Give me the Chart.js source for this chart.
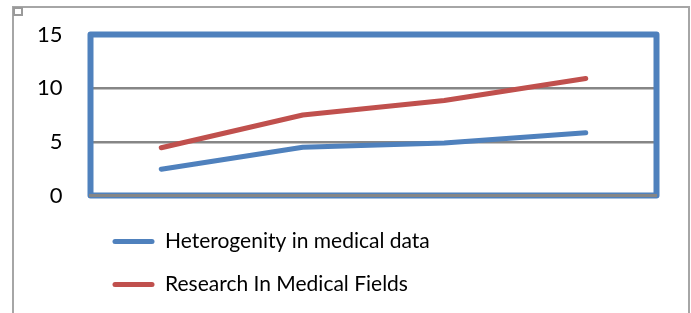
<!DOCTYPE html>
<html>
<head>
<meta charset="utf-8">
<script src="https://cdn.jsdelivr.net/npm/chart.js@4/dist/chart.umd.min.js"></script>
<style>
  html, body { margin: 0; padding: 0; background: #fff; }
  #wrap { position: relative; width: 691px; height: 313px; overflow: hidden; }
  #frame { position: absolute; left: 12px; top: 6px; width: 674px; height: 330px; border: 2px solid #a6a6a6; }
  #handle { position: absolute; left: 13px; top: 7px; width: 6px; height: 5px; border: 2px solid #9a9a9a; background: #fff; }
  canvas { position: absolute; left: 0; top: 0; }
</style>
</head>
<body>
<div id="wrap">
  <div id="frame"></div>
  <div id="handle"></div>
  <canvas id="chart" width="691" height="313"></canvas>
</div>
<script>
// values
const categories = ['1', '2', '3', '4'];
const heterogenity = [2.45, 4.5, 4.9, 5.85];
const research = [4.45, 7.5, 8.85, 10.9];
const yTicks = [0, 5, 10, 15];

const BLUE = '#4f81bd';
const RED = '#c0504d';
const GRAY = '#868686';

// blue box round the plot area
const plotFrame = {
  id: 'plotFrame',
  beforeDatasetsDraw(chart) {
    const { ctx, chartArea: a } = chart;
    ctx.save();
    ctx.strokeStyle = BLUE;
    ctx.lineWidth = 6;
    ctx.lineJoin = 'round';
    ctx.strokeRect(a.left, a.top, a.right - a.left, a.bottom - a.top);
    ctx.restore();
  }
};

new Chart(document.getElementById('chart'), {
  type: 'line',
  data: {
    labels: categories,
    datasets: [
      {
        label: 'Heterogenity in medical data',
        data: heterogenity,
        borderColor: BLUE,
        backgroundColor: BLUE,
        borderWidth: 5,
        borderCapStyle: 'round',
        borderJoinStyle: 'round',
        pointRadius: 0,
        tension: 0
      },
      {
        label: 'Research In Medical Fields',
        data: research,
        borderColor: RED,
        backgroundColor: RED,
        borderWidth: 5,
        borderCapStyle: 'round',
        borderJoinStyle: 'round',
        pointRadius: 0,
        tension: 0
      }
    ]
  },
  options: {
    responsive: false,
    animation: false,
    layout: { padding: { left: 0, top: 34.5, right: 34.5, bottom: 8 } },
    plugins: {
      tooltip: { enabled: false },
      legend: {
        position: 'bottom',
        align: 'start',
        fullSize: false,
        labels: {
          color: '#000',
          font: { family: 'Lato', size: 21 },
          boxWidth: 42,
          boxHeight: 5,
          padding: 22,
          generateLabels(chart) {
            return chart.data.datasets.map((ds, i) => ({
              text: ds.label,
              fillStyle: ds.borderColor,
              strokeStyle: ds.borderColor,
              lineWidth: 0,
              borderRadius: 2.5,
              datasetIndex: i
            }));
          }
        }
      }
    },
    scales: {
      x: {
        offset: true,
        grid: { display: false, drawTicks: false },
        border: { display: true, color: GRAY, width: 3, z: 1 },
        ticks: { display: false },
        afterFit(scale) { scale.height = 13.5; }
      },
      y: {
        min: 0,
        max: 15,
        afterBuildTicks(scale) { scale.ticks = yTicks.map(v => ({ value: v })); },
        grid: {
          drawTicks: false,
          lineWidth: 2.5,
          color: ctx => (ctx.tick && (ctx.tick.value === 5 || ctx.tick.value === 10)) ? GRAY : 'rgba(0,0,0,0)'
        },
        border: { display: false },
        ticks: {
          color: '#000',
          font: { family: 'Lato', size: 22 },
          padding: 28
        },
        afterFit(scale) {
          scale.width = 90.5;
          // tick padding should not push the plot area down
          scale.paddingTop = 0;
          scale.paddingBottom = 0;
        }
      }
    }
  },
  plugins: [plotFrame]
});
</script>
</body>
</html>
